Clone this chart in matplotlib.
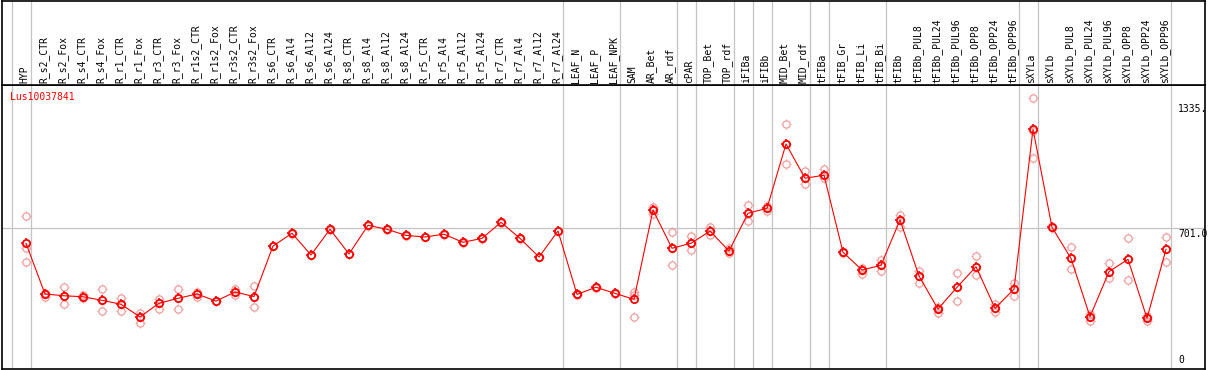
import numpy as np
import matplotlib
matplotlib.use("Agg")
import matplotlib.pyplot as plt
from matplotlib.path import Path

# sample names (one column each)
samples = ["HYP",
           "R_s2_CTR", "R_s2_Fox", "R_s4_CTR", "R_s4_Fox", "R_r1_CTR", "R_r1_Fox",
           "R_r3_CTR", "R_r3_Fox", "R_r1s2_CTR", "R_r1s2_Fox", "R_r3s2_CTR", "R_r3s2_Fox",
           "R_s6_CTR", "R_s6_Al4", "R_s6_Al12", "R_s6_Al24",
           "R_s8_CTR", "R_s8_Al4", "R_s8_Al12", "R_s8_Al24",
           "R_r5_CTR", "R_r5_Al4", "R_r5_Al12", "R_r5_Al24",
           "R_r7_CTR", "R_r7_Al4", "R_r7_Al12", "R_r7_Al24",
           "LEAF_N", "LEAF_P", "LEAF_NPK", "SAM", "AR_Bet", "AR_rdf", "cPAR",
           "TOP_Bet", "TOP_rdf", "iFIBa", "iFIBb", "MID_Bet", "MID_rdf", "tFIBa",
           "tFIB_Gr", "tFIB_Li", "tFIB_Bi", "tFIBb",
           "tFIBb_PUL8", "tFIBb_PUL24", "tFIBb_PUL96", "tFIBb_OPP8", "tFIBb_OPP24", "tFIBb_OPP96",
           "sXYLa", "sXYLb",
           "sXYLb_PUL8", "sXYLb_PUL24", "sXYLb_PUL96", "sXYLb_OPP8", "sXYLb_OPP24", "sXYLb_OPP96"]

# mean expression per sample
means = [625,
         369, 360, 355, 337, 317, 253, 322, 347, 369, 333, 379, 356,
         611, 676, 566, 696,
         571, 716, 696, 665,
         657, 671, 630, 650,
         731, 650, 556, 687,
         367, 403, 372, 342, 793, 600, 625,
         687, 586, 777, 802, 1127, 954, 969,
         580, 490, 514, 743,
         460, 293, 403, 507, 297, 393,
         1201, 706,
         549, 254, 482, 544, 246, 595]

# replicate values per sample
reps = [[763, 601, 531],
        [374, 354, 369], [403, 317, 360], [364, 349, 355], [393, 283, 337],
        [347, 284, 317], [271, 224, 253], [344, 295, 322], [393, 295, 347],
        [380, 355, 369], [335, 331, 333], [393, 364, 379], [407, 305, 356],
        [613, 609, 611], [678, 674, 676], [568, 564, 566], [698, 694, 696],
        [573, 569, 571], [718, 714, 716], [698, 694, 696], [667, 663, 665],
        [659, 655, 657], [673, 669, 671], [632, 628, 630], [652, 648, 650],
        [733, 729, 731], [652, 648, 650], [558, 554, 556], [689, 685, 687],
        [369, 365, 367], [405, 401, 403], [374, 370, 372], [379, 364, 251],
        [810, 772, 797], [681, 514, 600], [662, 590, 625],
        [706, 665, 687], [600, 575, 586], [819, 739, 777], [814, 788, 802],
        [1226, 1024, 1127], [992, 923, 954], [1000, 957, 969],
        [583, 577, 580], [499, 468, 490], [541, 487, 514], [768, 709, 743],
        [487, 426, 460], [305, 271, 293], [473, 333, 403],
        [561, 463, 507], [318, 276, 297], [426, 359, 393],
        [1358, 1193, 1055], [709, 703, 706],
        [605, 494, 549], [268, 234, 254], [524, 448, 482],
        [650, 440, 544], [258, 234, 246], [658, 529, 595]]

# group boundaries: separator drawn just right of these columns
group_ends = [-1, 0, 28, 31, 34, 35, 37, 38, 39, 41, 42, 45, 52, 53, 60]

gene = "Lus10037841"
ref_line = 701.0
ytick_labels = [(1335, "1335."), (701, "701.0"), (0, "0")]

W, H = 1209, 370
fig = plt.figure(figsize=(W / 100, H / 100), dpi=100)
mono = "DejaVu Sans Mono"
grey = "#c4c4c4"
light = "#f29c9c"

x = np.arange(len(samples))
xlim = ((1.7 - 26) / 19, (1205 - 26) / 19)

# little nubs around each circle
nubs = Path([(1, 0), (1.45, 0), (-1, 0), (-1.45, 0), (0, 1), (0, 1.45), (0, -1), (0, -1.45)],
            [Path.MOVETO, Path.LINETO] * 4)
ms_nub = 10.5 * 0.72
ms_circ = ms_nub / 1.45


def gear(axis, xs, ys, col, mew, z):
    axis.plot(xs, ys, linestyle="none", marker="o", ms=ms_circ, mfc="none",
              mec=col, mew=mew, zorder=z)
    axis.plot(xs, ys, linestyle="none", marker=nubs, ms=ms_nub, mfc="none",
              mec=col, mew=mew * 0.9, zorder=z)


# ---- main plot ----
ax = fig.add_axes([1.7 / W, 1 - 368.7 / H, (1205 - 1.7) / W, (368.7 - 85) / H])
ax.set_xlim(*xlim)
ax.set_ylim(-8.6, 1425)
for s in ax.spines.values():
    s.set_linewidth(1.2)
    s.set_color("black")
ax.set_xticks([])
ax.set_yticks([])

for g in group_ends:
    ax.axvline(g + 0.25, color=grey, lw=0.9, zorder=0)
ax.axhline(ref_line, color=grey, lw=0.9, zorder=0)

for i, r in enumerate(reps):
    gear(ax, [i] * len(r), r, light, 0.9, 2)
ax.plot(x, means, color="red", lw=0.8, zorder=3)
gear(ax, x, means, "red", 1.3, 4)

ax.text((10 - 1.7) / (1205 - 1.7), 1 - (96.7 - 85) / (368.7 - 85), gene,
        transform=ax.transAxes, color="red", fontsize=7, family=mono,
        ha="left", va="center")

# right-hand scale labels (drawn on the figure so they can run past the frame)
for val, lab in ytick_labels:
    yf = ax.transData.transform((0, val))[1] / H
    if val == 0:
        fig.text(1178 / W, yf + 1.5 / H, lab, fontsize=7, family=mono, ha="left", va="bottom")
    else:
        fig.text(1178 / W, yf - 1 / H, lab, fontsize=7, family=mono, ha="left", va="top")

# ---- header with sample names ----
hx = fig.add_axes([1.7 / W, 1 - 85 / H, (1205 - 1.7) / W, 84.4 / H])
hx.set_xlim(*xlim)
hx.set_ylim(85, 0)
hx.set_xticks([])
hx.set_yticks([])
for s in hx.spines.values():
    s.set_linewidth(1.2)
    s.set_color("black")
for g in group_ends:
    hx.axvline(g + 0.25, color=grey, lw=0.9, zorder=0)
for i, name in enumerate(samples):
    hx.text(i - 0.08, 83, name, rotation=90, fontsize=7, family=mono,
            ha="center", va="bottom")

fig.savefig("out.png", dpi=100)
